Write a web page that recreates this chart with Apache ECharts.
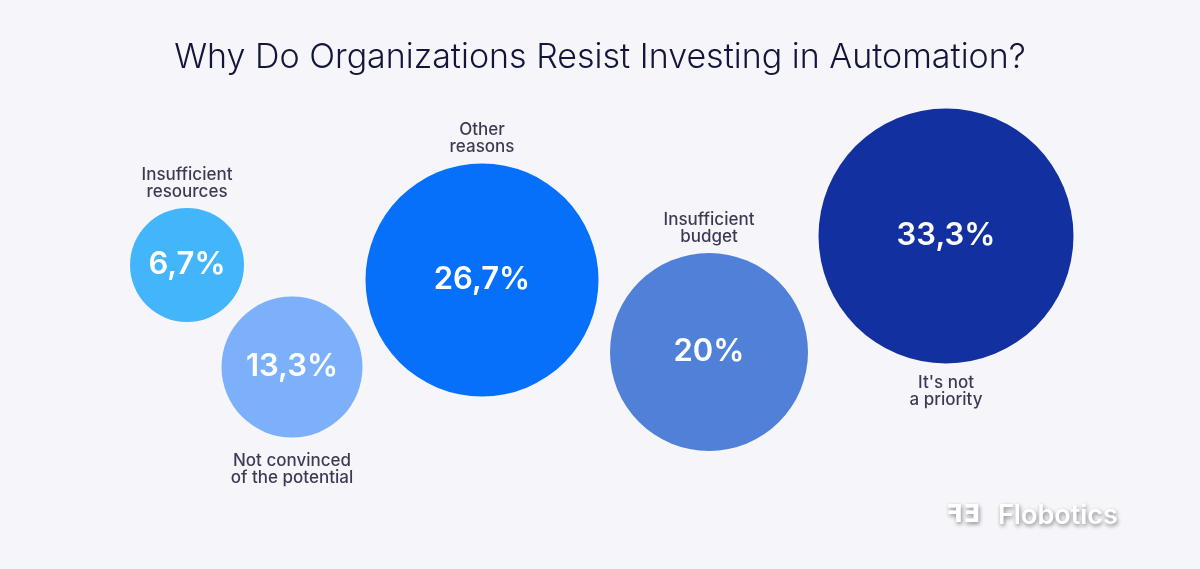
<!DOCTYPE html>
<html>
<head>
<meta charset="utf-8">
<title>Why Do Organizations Resist Investing in Automation?</title>
<script src="https://cdn.jsdelivr.net/npm/echarts@6/dist/echarts.min.js"></script>
<style>
  html, body { margin: 0; padding: 0; background: #f5f5fa; }
  #chart { width: 1200px; height: 569px; }
</style>
</head>
<body>
<div id="chart"></div>
<script>
// 数据
const reasons = ['Insufficient\nresources', 'Not convinced\nof the potential', 'Other\nreasons', 'Insufficient\nbudget', "It's not\na priority"];
const shares = [6.7, 13.3, 26.7, 20, 33.3];
// 气泡在画布坐标中的位置（x 向右，y 向下）
const posX = [187, 292, 482, 709, 946];
const posY = [265, 367, 280, 352, 236];

// 样式
const diameters = [114, 141, 233, 198, 255];
const colors = ['#42b5fb', '#7cb0fa', '#0670fa', '#5080d7', '#1230a0'];
const labelSide = ['top', 'bottom', 'top', 'top', 'bottom'];
const labelGap = [8, 15, 8, 8, 11];

const fmt = v => (Number.isInteger(v) ? String(v) : String(v).replace('.', ',')) + '%';

const chart = echarts.init(document.getElementById('chart'));

const logoShadow = {
  shadowColor: 'rgba(0,0,0,0.45)',
  shadowBlur: 4,
  shadowOffsetX: 1,
  shadowOffsetY: 2
};

chart.setOption({
  backgroundColor: '#f5f5fa',
  animation: false,
  title: {
    text: 'Why Do Organizations Resist Investing in Automation?',
    left: 'center',
    top: 36,
    textStyle: {
      color: '#13153a',
      fontFamily: 'Inter',
      fontWeight: 300,
      fontSize: 34
    }
  },
  grid: { left: 0, right: 0, top: 0, bottom: 0 },
  xAxis: { type: 'value', min: 0, max: 1200, show: false },
  yAxis: { type: 'value', min: 0, max: 569, inverse: true, show: false },
  series: [
    {
      // 气泡 + 百分比
      type: 'scatter',
      symbol: 'circle',
      data: shares.map((v, i) => ({
        value: [posX[i], posY[i], v],
        symbolSize: diameters[i],
        itemStyle: { color: colors[i], opacity: 1 }
      })),
      label: {
        show: true,
        position: 'inside',
        formatter: p => fmt(p.value[2]),
        color: '#ffffff',
        fontFamily: 'Inter',
        fontWeight: 600,
        fontSize: 31
      },
      emphasis: { disabled: true }
    },
    {
      // 类别名称
      type: 'scatter',
      symbol: 'circle',
      silent: true,
      data: reasons.map((r, i) => ({
        value: [posX[i], posY[i], shares[i]],
        symbolSize: diameters[i],
        itemStyle: { color: 'rgba(0,0,0,0)' },
        label: { position: labelSide[i], distance: labelGap[i] }
      })),
      label: {
        show: true,
        formatter: p => reasons[p.dataIndex],
        color: '#0b0c28',
        fontFamily: 'Inter',
        fontWeight: 500,
        fontSize: 17,
        lineHeight: 17,
        align: 'center'
      },
      z: 3
    }
  ],
  graphic: [
    {
      type: 'text',
      left: 998,
      top: 502,
      style: Object.assign({
        text: 'Flobotics',
        fill: '#ffffff',
        font: '600 27px Inter',
        textShadowColor: 'rgba(0,0,0,0.45)',
        textShadowBlur: 4,
        textShadowOffsetX: 1,
        textShadowOffsetY: 2
      }, logoShadow)
    },
    {
      type: 'text',
      left: 946,
      top: 503,
      style: Object.assign({
        text: 'ꟻƎ',
        fill: '#ffffff',
        font: 'bold 25px DejaVu Sans',
        textShadowColor: 'rgba(0,0,0,0.45)',
        textShadowBlur: 4,
        textShadowOffsetX: 1,
        textShadowOffsetY: 2
      }, logoShadow)
    }
  ]
});
</script>
</body>
</html>
